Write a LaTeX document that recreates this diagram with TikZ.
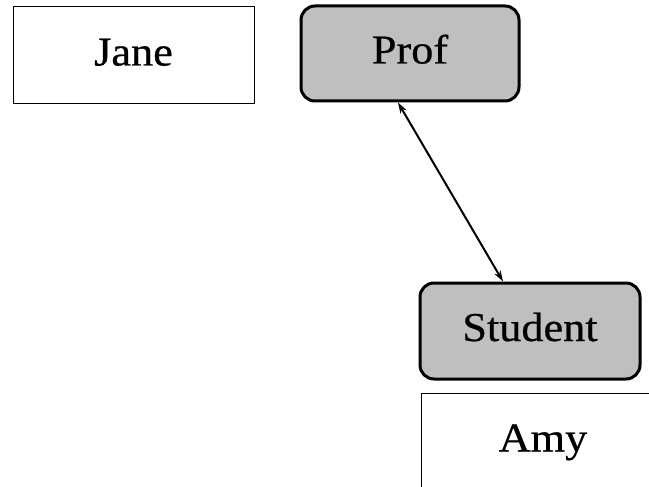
\documentclass[tikz,border=0pt]{standalone}
\usepackage{fontspec}
\setmainfont{Liberation Serif}[FakeStretch=1.08, FakeBold=0.6]
\usetikzlibrary{arrows.meta}
\begin{document}
\begin{tikzpicture}[x=1pt,y=-1pt,
  every node/.style={font=\fontsize{41}{44}\selectfont, text height=28pt, text depth=8pt, inner sep=0pt},
  plainbox/.style={draw, line width=1pt, minimum width=241pt, minimum height=97pt},
  rolebox/.style={draw, line width=3pt, fill=gray!50!white, rounded corners=14pt,
                  minimum width=218pt, minimum height=95pt},
  link/.style={line width=2pt, {Stealth[length=11pt,width=7pt]}-{Stealth[length=11pt,width=7pt]}}]
  \useasboundingbox (0,0) rectangle (649,487);
  \clip (0,0) rectangle (649,487);
  \node[plainbox] (jane) at (133.5,55.5) {Jane};
  \node[rolebox] (prof) at (410,53.5) {Prof};
  \node[rolebox, minimum width=220pt, minimum height=96pt] (student) at (530,331) {Student};
  \node[plainbox, minimum width=244pt] (amy) at (543,441.5) {Amy};
  \draw[link] ([xshift=-12pt]prof.south) -- ([xshift=-27pt]student.north);
\end{tikzpicture}
\end{document}
